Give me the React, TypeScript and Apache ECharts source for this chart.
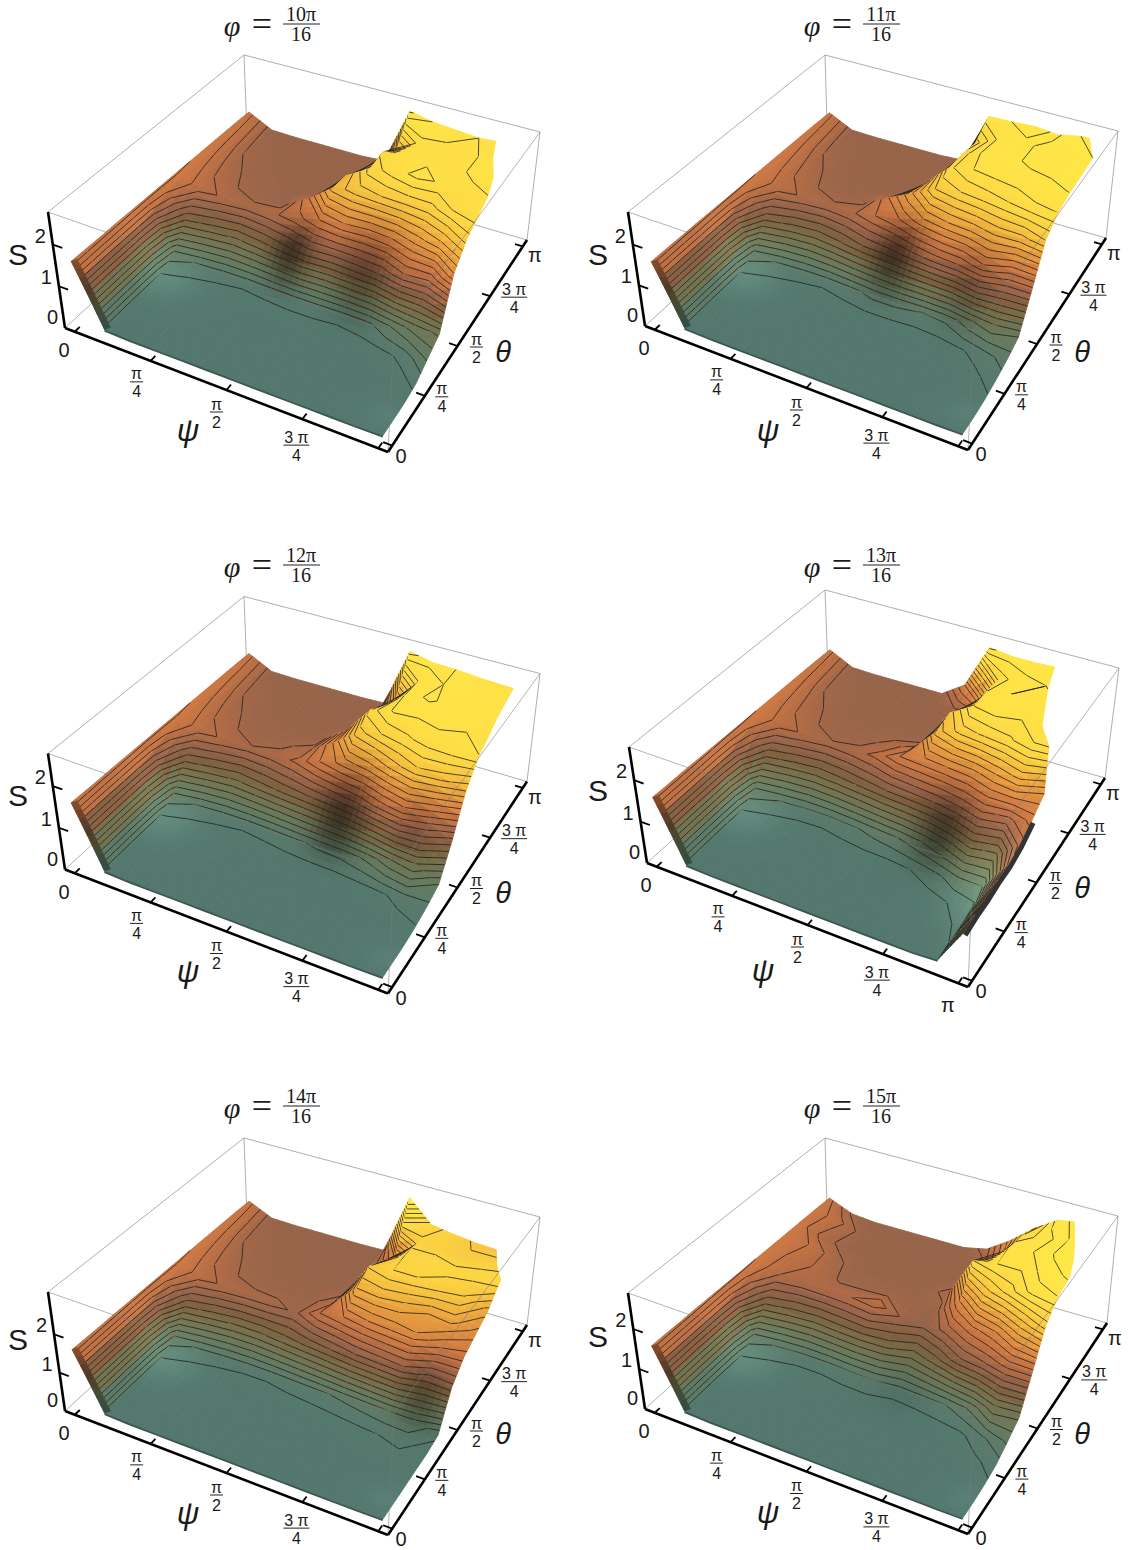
import React, { useEffect, useRef } from "react";
import * as echarts from "echarts";

// S values (x100): rows theta = 0..pi, columns psi = 0..pi, both in steps of pi/12
const s10 = [
[157,16,14,14,14,14,14,14,14,14,14,14,15],
[156,16,14,14,14,14,14,14,14,14,14,14,15],
[155,16,14,14,14,14,14,14,14,14,14,15,16],
[155,17,15,14,14,14,14,14,14,14,15,16,22],
[154,20,16,15,15,15,15,15,15,16,17,22,42],
[153,36,28,24,22,24,26,26,24,26,40,55,62],
[152,95,85,78,85,95,105,100,105,110,130,125,170],
[151,135,128,124,128,135,150,160,155,160,175,190,215],
[150,130,120,116,115,150,195,205,210,212,215,232,238],
[149,125,116,115,114,114,190,225,235,244,238,235,240],
[148,120,115,114,113,113,118,232,236,238,236,244,246],
[147,117,114,113,113,112,112,190,238,238,236,244,250],
[145,114,112,112,112,112,116,262,250,245,240,245,245],
];
const s11 = [
[155,16,14,14,14,14,14,14,14,14,14,14,15],
[155,16,14,14,14,14,14,14,14,14,14,14,15],
[154,16,14,14,14,14,14,14,14,14,14,15,18],
[154,17,15,14,14,14,14,14,14,15,15,17,25],
[153,20,16,15,15,15,15,15,15,16,18,25,35],
[152,38,28,24,22,26,34,34,30,32,48,60,50],
[151,98,85,80,88,100,105,115,125,130,150,125,125],
[150,135,128,124,128,140,150,170,180,185,195,195,210],
[149,130,120,116,118,150,180,212,220,225,230,238,240],
[148,126,116,114,114,114,170,228,240,243,245,248,250],
[147,120,115,114,113,113,120,225,245,248,252,252,255],
[146,117,114,113,113,112,114,215,243,248,252,250,260],
[144,114,112,112,112,112,116,248,250,254,248,260,262],
];
const s12 = [
[157,16,14,14,14,14,14,14,14,14,14,14,15],
[156,16,14,14,14,14,14,14,14,14,14,14,15],
[155,16,14,14,14,14,14,14,14,14,14,15,16],
[155,17,15,14,14,14,14,14,14,14,15,16,20],
[154,20,16,15,15,15,15,15,15,16,18,24,28],
[153,38,28,24,22,24,28,32,34,42,60,70,40],
[152,95,85,78,85,92,98,105,115,135,150,130,105],
[151,135,128,122,124,132,150,165,175,195,210,205,190],
[150,130,120,116,118,125,160,205,220,228,235,238,240],
[149,125,116,115,114,114,155,225,242,240,242,240,240],
[148,120,115,114,113,113,114,200,246,252,244,246,246],
[147,117,114,113,113,112,112,175,245,250,248,245,242],
[145,114,112,112,112,112,114,265,252,250,245,242,240],
];
const s13 = [
[156,16,14,14,14,14,14,14,14,14,14,18,105],
[155,16,14,14,14,14,14,14,14,14,15,20,110],
[155,16,14,14,14,14,14,14,14,14,16,22,110],
[154,17,15,14,14,14,14,14,15,16,20,26,115],
[153,20,16,15,15,16,17,17,20,26,38,40,115],
[152,38,30,25,24,28,34,40,50,65,85,75,125],
[151,95,85,80,85,92,100,105,110,120,135,125,145],
[150,135,128,122,125,133,150,155,160,165,180,195,170],
[149,130,120,116,116,125,135,195,215,222,228,240,240],
[148,126,116,114,114,114,116,205,240,245,240,240,250],
[147,120,115,114,113,113,114,150,240,250,245,250,250],
[146,117,114,113,113,112,112,118,235,248,250,250,250],
[144,114,112,112,112,112,150,262,255,255,258,258,258],
];
const s14 = [
[157,16,14,14,14,14,14,14,14,14,14,14,15],
[156,16,14,14,14,14,14,14,14,14,14,14,15],
[155,16,14,14,14,14,14,14,14,14,14,15,15],
[155,17,15,14,14,14,14,14,14,15,16,16,16],
[154,20,16,15,15,15,15,15,16,18,20,22,16],
[153,36,28,24,22,22,25,28,32,36,40,40,22],
[152,95,85,78,78,85,92,100,110,115,120,100,105],
[151,135,128,125,124,118,140,150,160,165,170,150,145],
[150,130,120,116,115,115,128,190,195,190,180,185,165],
[149,125,116,114,114,113,116,212,220,220,218,212,185],
[148,120,115,113,113,112,112,185,222,225,222,224,230],
[147,117,114,113,112,112,112,150,218,215,212,215,215],
[145,114,112,112,112,112,114,285,225,215,208,205,205],
];
const s15 = [
[155,16,14,14,14,14,14,14,14,14,14,14,15],
[155,16,14,14,14,14,14,14,14,14,14,14,15],
[154,16,14,14,14,14,14,14,14,14,14,15,18],
[154,17,15,14,14,14,14,14,14,14,15,17,25],
[153,20,16,15,15,15,15,15,15,16,17,28,42],
[152,36,28,24,24,28,30,24,26,30,42,70,62],
[151,95,85,80,85,88,85,70,85,108,118,135,135],
[150,130,126,128,130,138,120,110,125,145,160,190,215],
[149,135,128,118,118,118,115,115,160,205,225,245,250],
[148,140,125,115,114,114,114,125,230,240,240,255,262],
[147,125,115,113,113,113,113,114,180,245,250,262,262],
[146,135,116,113,113,112,112,112,150,235,245,260,265],
[144,118,112,112,112,112,112,125,165,215,255,265,265],
];
// where the surface stops along psi (fraction of the box) for each theta row
const e10 = [.97,.97,.97,.97,.97,.97,.97,.97,.97,.96,.94,.90,.87];
const e11 = [.97,.97,.97,.97,.97,.97,.97,.97,.97,.97,.97,.97,.92];
const e12 = [.97,.97,.97,.97,.97,.97,.97,.97,.97,.96,.95,.94,.93];
const e13 = [.97,.97,.97,.97,.97,.97,.97,.97,.94,.88,.85,.82,.80];
const e14 = [.97,.97,.97,.97,.97,.97,.97,.97,.97,.97,.97,.92,.88];
const e15 = [.97,.97,.97,.97,.97,.97,.97,.97,.97,.97,.945,.91,.87];

const titleNumerators = ["10π", "11π", "12π", "13π", "14π", "15π"];
const titleDenominator = "16";
const psiTicks = [["π", "4"], ["π", "2"], ["3 π", "4"]];
const thetaTicks = [["π", "4"], ["π", "2"], ["3 π", "4"]];
const sTicks = ["0", "1", "2"];

type P = number[];
type Panel = {
  data: number[][]; edge: number[]; zmax: number;
  A: P; B: P; C: P; D: P; At: P; Bt: P; Ct: P; Dt: P;
  tx: number; spots: number[][]; psiEnd?: boolean;
};
const common = [[0.1, 0.33, 0.1, -0.15], [0.97, 0.08, 0.06, -0.06]];
const t = (p: P, dy: number) => [p[0], p[1] + dy];
const panels: Panel[] = [
  { data: s10, edge: e10, zmax: 2.78, A: [65,328], B: [388,452], C: [527,240], D: [248,159], At: [48,212], Bt: [394,333], Ct: [540,132], Dt: [244,55], tx: 0, spots: [[0.45,0.5,0.065,0.5],[0.7,0.5,0.09,0.32],...common] },
  { data: s11, edge: e11, zmax: 2.8, A: [645,326], B: [968,450], C: [1106,238], D: [828,159], At: [628,212], Bt: [974,331], Ct: [1118,131], Dt: [825,55], tx: 580, spots: [[0.53,0.5,0.075,0.5],[0.8,0.47,0.08,0.2],...common] },
  { data: s12, edge: e12, zmax: 2.78, A: t([65,328],541.5), B: t([388,452],541.5), C: t([527,240],541.5), D: t([248,159],541.5), At: t([48,212],541.5), Bt: t([394,333],541.5), Ct: t([540,132],541.5), Dt: t([244,55],541.5), tx: 0, spots: [[0.63,0.48,0.085,0.5],[0.88,0.48,0.06,0.15],...common] },
  { data: s13, edge: e13, zmax: 2.8, A: [647,863], B: [968,987], C: [1105,778], D: [829,698], At: [629,747], Bt: [973,867], Ct: [1119,668], Dt: [825,590], tx: 580, psiEnd: true, spots: [[0.72,0.44,0.09,0.45],[1,0.3,0.14,-0.35],...common] },
  { data: s14, edge: e14, zmax: 3.1, A: [65,1411], B: [388,1535], C: [527,1325], D: [248,1243], At: [48,1292], Bt: [394,1413], Ct: [540,1217], Dt: [244,1138], tx: 0, spots: [[0.92,0.46,0.07,0.3],...common] },
  { data: s15, edge: e15, zmax: 2.9, A: [645,1409], B: [968,1534], C: [1107,1323], D: [828,1243], At: [628,1293], Bt: [974,1415], Ct: [1118,1216], Dt: [825,1138], tx: 580, spots: [[0.6,0.42,0.1,0.08],...common] },
];

const PAD = 0.03, SPAN = 0.94;
const inset = (f: number) => PAD + SPAN * f;

function bilinear(a: P, b: P, c: P, d: P) {
  return (u: number, v: number): P => [0, 1].map(k =>
    a[k]*(1-u)*(1-v) + b[k]*u*(1-v) + c[k]*u*v + d[k]*(1-u)*v);
}
function projector(p: Panel) {
  const lo = bilinear(p.A, p.B, p.C, p.D);
  const hi = bilinear(p.At, p.Bt, p.Ct, p.Dt);
  return (u: number, v: number, s: number): P => {
    const a = lo(u, v), b = hi(u, v), k = s / p.zmax;
    return [a[0]+(b[0]-a[0])*k, a[1]+(b[1]-a[1])*k];
  };
}

const ramp: number[][] = [
  [0.1,82,118,110],[0.25,88,122,108],[0.5,105,122,92],[0.75,120,112,75],[0.95,128,96,62],
  [1.14,152,100,74],[1.3,180,108,68],[1.5,208,122,68],[1.8,232,158,62],[2.0,245,190,62],
  [2.2,252,212,66],[2.45,255,226,70],[2.9,255,240,70],
];
function colorOf(s: number, k: number) {
  let c = ramp[ramp.length-1];
  if (s <= ramp[0][0]) c = ramp[0];
  else for (let i = 0; i < ramp.length-1; i++) {
    if (s >= ramp[i][0] && s <= ramp[i+1][0]) {
      const f = (s-ramp[i][0])/(ramp[i+1][0]-ramp[i][0]);
      c = [0, ramp[i][1]+(ramp[i+1][1]-ramp[i][1])*f, ramp[i][2]+(ramp[i+1][2]-ramp[i][2])*f, ramp[i][3]+(ramp[i+1][3]-ramp[i][3])*f];
      break;
    }
  }
  const m = (x: number) => Math.max(0, Math.min(255, Math.round(x*k)));
  return `rgb(${m(c[1])},${m(c[2])},${m(c[3])})`;
}
const N = 12, SUB = 4;
const levels: number[] = [];
for (let l = 2; l <= 27; l++) levels.push(l/10);

function sAt(p: Panel, u: number, v: number) {
  const x = Math.min(N-1e-6, u*N), y = Math.min(N-1e-6, v*N);
  const i = Math.floor(x), j = Math.floor(y), f = x-i, g = y-j;
  const d = p.data;
  return (d[j][i]*(1-f)*(1-g)+d[j][i+1]*f*(1-g)+d[j+1][i]*(1-f)*g+d[j+1][i+1]*f*g)/100;
}
function inside(p: Panel, u: number, v: number) {
  const y = Math.min(N-1e-6, v*N), j = Math.floor(y), g = y-j;
  return p.edge[j]*(1-g)+p.edge[j+1]*g - inset(u) + 1e-6;
}
function shade(p: Panel, u: number, v: number) {
  let k = 1;
  for (const sp of p.spots) {
    const du = u-sp[0], dv = v-sp[1];
    k *= 1-sp[3]*Math.exp(-(du*du+dv*dv)/(sp[2]*sp[2]));
  }
  return k;
}
function clipPoly(poly: number[][]) {
  const out: number[][] = [];
  for (let i = 0; i < poly.length; i++) {
    const a = poly[i], b = poly[(i+1)%poly.length];
    const ia = a[3] >= 0, ib = b[3] >= 0;
    if (ia) out.push(a);
    if (ia !== ib) {
      const f = a[3]/(a[3]-b[3]);
      out.push([a[0]+(b[0]-a[0])*f, a[1]+(b[1]-a[1])*f, a[2]+(b[2]-a[2])*f, 0]);
    }
  }
  return out;
}
function cellElements(p: Panel, proj: (u:number,v:number,s:number)=>P, i: number, j: number) {
  const children: any[] = [];
  const surf = (u:number,v:number,s:number) => proj(inset(u),inset(v),s);
  for (let b = SUB-1; b >= 0; b--) for (let a = 0; a < SUB; a++) {
    const u0 = (i+a/SUB)/N, u1 = (i+(a+1)/SUB)/N, v0 = (j+b/SUB)/N, v1 = (j+(b+1)/SUB)/N;
    const corners = [[u0,v0],[u1,v0],[u1,v1],[u0,v1]].map(q => [q[0], q[1], sAt(p,q[0],q[1]), inside(p,q[0],q[1])]);
    const poly = clipPoly(corners);
    if (poly.length < 3) continue;
    const um = (u0+u1)/2, vm = (v0+v1)/2;
    const col = colorOf(sAt(p,um,vm), shade(p,um,vm));
    children.push({ type: "polygon", silent: true, shape: { points: poly.map(q => surf(q[0],q[1],q[2])) }, style: { fill: col, stroke: col, lineWidth: 0.9 } });
  }
  const d = p.data;
  const cs = [d[j][i]/100, d[j][i+1]/100, d[j+1][i+1]/100, d[j+1][i]/100];
  const uv = [[i,j],[i+1,j],[i+1,j+1],[i,j+1]];
  for (const L of levels) {
    const pts: number[][] = [];
    for (let e = 0; e < 4; e++) {
      const a = cs[e], b = cs[(e+1)%4];
      if ((a < L) !== (b < L)) {
        const f = (L-a)/(b-a), A = uv[e], B = uv[(e+1)%4];
        pts.push([(A[0]+(B[0]-A[0])*f)/N, (A[1]+(B[1]-A[1])*f)/N]);
      }
    }
    for (let k = 0; k+1 < pts.length; k += 2) {
      let m = pts[k], n = pts[k+1];
      const fm = inside(p,m[0],m[1]), fn = inside(p,n[0],n[1]);
      if (fm < 0 && fn < 0) continue;
      if (fm < 0 || fn < 0) {
        const f = fm/(fm-fn), c = [m[0]+(n[0]-m[0])*f, m[1]+(n[1]-m[1])*f];
        if (fm < 0) m = c; else n = c;
      }
      const q = surf(m[0],m[1],L), r = surf(n[0],n[1],L);
      children.push({ type: "line", silent: true, shape: { x1:q[0],y1:q[1],x2:r[0],y2:r[1] }, style: { stroke: "rgba(30,30,30,0.88)", lineWidth: 0.9 } });
    }
  }
  return { type: "group", children };
}
const thin = { stroke: "#9a9a9a", lineWidth: 0.8 };
const ln = (a: P, b: P, style: any) => ({ type: "line", silent: true, shape: { x1:a[0],y1:a[1],x2:b[0],y2:b[1] }, style });

function backBox(p: Panel) {
  return [ln(p.At,p.Dt,thin),ln(p.Dt,p.Ct,thin),ln(p.Dt,p.D,thin),ln(p.Ct,p.C,thin),ln(p.A,p.D,thin),ln(p.D,p.C,thin)];
}
function frontBox(p: Panel, proj: any) {
  const els: any[] = [];
  const surf = (u:number,v:number,s:number) => proj(inset(u),inset(v),s);
  const fine = { stroke: "rgba(120,120,120,0.7)", lineWidth: 0.8 };
  els.push(ln(p.At,p.Bt,fine),ln(p.Ct,p.Bt,fine),ln(p.Bt,p.B,fine));
  // thin dark faces along the surface's front edge
  const S = 8;
  for (let k = 0; k < S; k++) {
    const u0 = k/(S*N), u1 = (k+1)/(S*N);
    const a = surf(u0,0,sAt(p,u0,0)), b = surf(u1,0,sAt(p,u1,0));
    const col = colorOf(sAt(p,(u0+u1)/2,0), 0.62);
    els.push({ type:"polygon", silent:true, shape:{points:[a,b,[b[0]+6,b[1]-2],[a[0]+6,a[1]-2]]}, style:{fill:col,stroke:col,lineWidth:0.5} });
  }
  const frontLine: P[] = [];
  for (let i = 1; i <= (p.psiEnd ? N-1 : N); i++) frontLine.push(surf(i/N,0,p.data[0][i]/100));
  els.push({ type:"polyline", silent:true, shape:{points:frontLine.map(q=>[q[0],q[1]+1])}, style:{stroke:"#3c5753",lineWidth:2,fill:"none"} });
  if (p.psiEnd) {
    const band: P[] = [];
    for (let j = 0; j <= 6; j++) { const q = surf(1,j/N,p.data[j][N]/100); band.push([q[0]+1,q[1]+3]); }
    els.push({ type:"polyline", silent:true, shape:{points:band}, style:{stroke:"#333",lineWidth:5,fill:"none"} });
  }
  const axis = { stroke:"#000", lineWidth:2.6 };
  const tick = { stroke:"#000", lineWidth:1.8 };
  els.push(ln(p.A,p.At,axis),ln(p.A,p.B,axis),ln(p.B,p.C,axis));
  for (const f of [0,0.25,0.5,0.75,1]) {
    els.push(ln(proj(inset(f),0,0),proj(inset(f),0.028,0),tick));
    els.push(ln(proj(1,inset(f),0),proj(0.972,inset(f),0),tick));
  }
  for (const z of [1,2]) els.push(ln(proj(0,0,z),proj(0.028,0,z),tick));
  return els;
}
function txt(x:number,y:number,text:string,font:string,fill="#1a1a1a") {
  return { type:"text", silent:true, z:50, x, y, style:{ text, font, fill, align:"center", verticalAlign:"middle", textAlign:"center", textVerticalAlign:"middle" } };
}
function frac(cx:number,cy:number,n:string,dn:string) {
  const f = '16px "Liberation Sans"';
  const w = n.length>1 ? 13 : 6.5;
  return [txt(cx,cy-8,n,f), txt(cx,cy+10,dn,f),
    { type:"line", silent:true, z:50, shape:{x1:cx-w,y1:cy,x2:cx+w,y2:cy}, style:{stroke:"#222",lineWidth:1} }];
}
function graphics(p: Panel, idx: number, proj: any) {
  const out: any[] = [];
  const big = '20px "Liberation Sans"';
  const dx = p.tx;
  // title
  const ser = '20px "Liberation Serif"';
  const ty = idx < 2 ? 0 : idx < 4 ? 541 : 1082;
  out.push(txt(dx+232,ty+25,"φ",'italic 30px "Liberation Serif"'), txt(dx+262,ty+24,"=",'36px "Liberation Serif"'),
    txt(dx+301,ty+13.5,titleNumerators[idx],ser), txt(dx+301,ty+34,titleDenominator,ser),
    { type:"line", silent:true, z:50, shape:{x1:dx+283,y1:ty+24,x2:dx+320,y2:ty+24}, style:{stroke:"#222",lineWidth:1} });
  // S axis
  const sy = [-11,-9,-9];
  sTicks.forEach((s,i)=>{ const q=proj(0,0,i); out.push(txt(q[0]-12.5,q[1]+sy[i],s,big)); });
  // psi axis
  const z0 = proj(0,0,0); out.push(txt(z0[0]-1,z0[1]+22,"0",big));
  const po = [[-14,21],[-10,22],[-6,26]];
  [0.25,0.5,0.75].forEach((f,i)=>{ const q=proj(inset(f),0,0); out.push(...frac(q[0]+po[i][0],q[1]+po[i][1],psiTicks[i][0],psiTicks[i][1])); });
  if (p.psiEnd) { const q=proj(1,0,0); out.push(txt(q[0]-20,q[1]+18,"π",big)); }
  // theta axis
  const b0 = proj(1,0,0); out.push(txt(b0[0]+13,b0[1]+4,"0",big));
  const to = [17,19,24];
  [0.25,0.5,0.75].forEach((f,i)=>{ const q=proj(1,inset(f),0); out.push(...frac(q[0]+to[i],q[1]+1,thetaTicks[i][0],thetaTicks[i][1])); });
  const b1 = proj(1,1,0); out.push(txt(b1[0]+8,b1[1]+15,"π",big));
  // names
  const psiY = idx===3 ? 970 : ty+430 + (idx===4?1:0);
  const psiX = idx===3 ? dx+183 : dx+188;
  const thY = idx===3 ? 888 : ty+352;
  out.push(txt(dx+18,idx===3?790:ty+254+(idx===4?3:0),"S",'30px "Liberation Sans"'));
  out.push(txt(psiX,psiY,"ψ",'italic 31px "Liberation Sans"'));
  out.push(txt(dx+(idx%2?502:503),thY,"θ",'italic 29px "Liberation Sans"'));
  return out;
}

export default function App() {
  const ref = useRef<HTMLDivElement>(null);
  useEffect(() => {
    const chart = echarts.init(ref.current!, undefined, { renderer: "svg" });
    const series: any[] = [];
    const elements: any[] = [];
    panels.forEach((p, idx) => {
      const proj = projector(p);
      series.push({ type:"custom", coordinateSystem:"none", silent:true, clip:false, animation:false, z:1, data:[[0]],
        renderItem: () => ({ type:"group", children: backBox(p) }) });
      const cells: number[][] = [];
      for (let j = N-1; j >= 0; j--) for (let i = 0; i < N; i++) cells.push([i,j]);
      series.push({ type:"custom", coordinateSystem:"none", silent:true, clip:false, animation:false, progressive:0, z:2, data:cells,
        renderItem: (_: any, api: any) => cellElements(p, proj, api.value(0), api.value(1)) });
      series.push({ type:"custom", coordinateSystem:"none", silent:true, clip:false, animation:false, z:3, data:[[0]],
        renderItem: () => ({ type:"group", children: frontBox(p, proj) }) });
      elements.push(...graphics(p, idx, proj));
    });
    chart.setOption({ animation:false, backgroundColor:"#fff", series, graphic:{ elements } });
    return () => chart.dispose();
  }, []);
  return <div ref={ref} style={{ position:"absolute", left:0, top:0, width:1129, height:1550 }} />;
}
